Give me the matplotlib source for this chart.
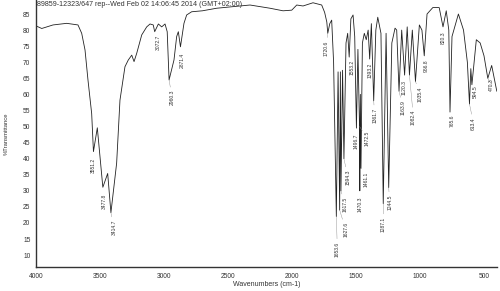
import numpy as np
import matplotlib
matplotlib.use("Agg")
import matplotlib.pyplot as plt

plt.rcParams['font.family'] = ['Liberation Sans', 'DejaVu Sans']

# spectrum: wavenumber (cm-1) and %T
wavenumber = [
    4000, 3955, 3867, 3760, 3672, 3643, 3617, 3594, 3565, 3551.2, 3521, 3477.8,
    3440, 3414.7, 3370, 3344, 3305, 3279, 3252, 3234, 3213, 3174, 3135, 3109,
    3084, 3072.7, 3044, 3018, 2992, 2975, 2960.3, 2922, 2901, 2888, 2871.4,
    2844, 2823, 2784, 2700, 2588, 2459, 2328, 2172, 2070, 2002, 1963, 1914,
    1836, 1768, 1745, 1728, 1720.6, 1705, 1690, 1675, 1653.6, 1640, 1627.6,
    1622, 1617.5, 1605, 1594.3, 1578, 1565, 1553.2, 1540, 1523, 1510, 1496.7,
    1485, 1472.5, 1470.3, 1466, 1461.1, 1450, 1435, 1420, 1405, 1393.2, 1380,
    1361.7, 1345, 1330, 1305, 1287.1, 1265, 1244.5, 1220, 1195, 1182, 1163.9,
    1143, 1120.3, 1100, 1082.4, 1060, 1035.4, 1005, 985, 966.8, 945, 900, 850,
    820.3, 795, 775, 765.6, 750, 700, 660, 630, 613.4, 603, 594.5, 560, 530,
    500, 470.3, 440, 400]
transmittance = [
    81.3, 80.5, 81.6, 82.1, 81.6, 79.0, 73.8, 64.5, 54.0, 42.2, 49.6, 31.1,
    35.4, 23.2, 38.6, 58.2, 68.6, 70.7, 72.2, 70.2, 72.8, 78.5, 81.0, 81.9,
    81.6, 79.5, 81.9, 81.0, 81.9, 79.5, 64.5, 70.7, 78.0, 79.5, 74.8,
    82.1, 84.7, 85.7, 86.0, 86.8, 87.3, 87.8, 86.8, 86.0, 86.2, 87.8, 87.5,
    88.5, 87.8, 85.5, 82.5, 79.0, 82.0, 83.1, 70.0, 22.0, 67.0, 24.0,
    67.0, 30.0, 67.5, 40.0, 76.0, 79.0, 71.6, 83.5, 84.7, 78.0, 49.5,
    74.0, 50.0, 30.0, 60.0, 37.0, 76.0, 79.0, 77.0, 80.0, 71.0, 82.0,
    58.0, 80.0, 84.0, 79.0, 26.0, 79.0, 31.0, 76.0, 80.6, 80.0, 61.0,
    80.0, 66.0, 81.0, 66.0, 80.0, 64.0, 81.6, 80.0, 72.0, 85.0, 87.0, 87.0,
    81.0, 86.0, 80.0, 54.5, 78.0, 85.0, 80.0, 70.0, 57.0, 68.0, 63.0, 77.0, 76.0,
    72.0, 65.0, 69.0, 61.0]

peaks = [3551.2, 3477.8, 3414.7, 3072.7, 2960.3, 2871.4, 1720.6, 1653.6,
         1627.6, 1617.5, 1594.3, 1553.2, 1496.7, 1472.5, 1470.3, 1461.1,
         1393.2, 1361.7, 1287.1, 1244.5, 1163.9, 1120.3, 1082.4, 1035.4,
         966.8, 820.3, 765.6, 613.4, 594.5, 470.3]

y_ticks = list(range(10, 90, 5))
x_ticks = [4000, 3500, 3000, 2500, 2000, 1500, 1000, 500]
header = "89859-12323/647 rep--Wed Feb 02 14:06:45 2014 (GMT+02:00)"

# label placement offsets in pixels (dx, dy) from the peak tip
label_offset = {
    3551.2: (0, -6), 3477.8: (1, -6), 3414.7: (3, -7), 3072.7: (4, -3),
    2960.3: (3, -10), 2871.4: (2, -6), 1720.6: (-2, -7), 1653.6: (1, -25),
    1627.6: (6, -12), 1617.5: (4, -6), 1594.3: (4, -11), 1553.2: (3, -3),
    1496.7: (0, -5), 1472.5: (8, -4), 1470.3: (0, -6), 1461.1: (5, -3),
    1393.2: (0, -4), 1361.7: (1, -7), 1287.1: (0, -13), 1244.5: (1, -7),
    1163.9: (4, -9), 1120.3: (0, -5), 1082.4: (4, -35), 1035.4: (5, -5),
    966.8: (2, -4), 820.3: (0, -5), 765.6: (2, -3), 613.4: (4, -13),
    594.5: (3, -1), 470.3: (4, 0),
}

fig = plt.figure(figsize=(5.0, 2.91), dpi=100)
ax = fig.add_axes([0.072, 0.0825, 0.9216, 0.9175])

ax.plot(wavenumber, transmittance, c="#222222", lw=0.6)
ax.set_xlim(4000, 400)
ax.set_ylim(6.3, 89.36)

ax.set_xticks(x_ticks)
ax.set_yticks(y_ticks)
ax.tick_params(length=0, labelsize=4.8, colors="#333333", pad=4)
for s in ("top", "right"):
    ax.spines[s].set_visible(False)
for s in ("left", "bottom"):
    ax.spines[s].set_linewidth(1.0)
    ax.spines[s].set_color("#333333")

ax.set_xlabel("Wavenumbers (cm-1)", fontsize=5, color="#333333", labelpad=1)
ax.set_ylabel("%Transmittance", fontsize=4.2, color="#333333", labelpad=10)
ax.text(0.002, 0.998, header, transform=ax.transAxes, fontsize=5.1,
        va="top", ha="left", color="#333333")

wn_asc = wavenumber[::-1]
t_asc = transmittance[::-1]
for p in peaks:
    t = np.interp(p, wn_asc, t_asc)
    dx, dy = label_offset.get(p, (0, -5))
    arrow = None
    if abs(dy) > 6 or abs(dx) > 3:
        arrow = dict(arrowstyle="-", lw=0.3, color="#888888",
                     shrinkA=0, shrinkB=0)
    ax.annotate(f"{p:.1f}", xy=(p, t), xytext=(dx, dy),
                textcoords="offset pixels", rotation=90, ha="center",
                va="top", fontsize=3.6, color="#333333", arrowprops=arrow)

fig.savefig("out.png", dpi=100)
